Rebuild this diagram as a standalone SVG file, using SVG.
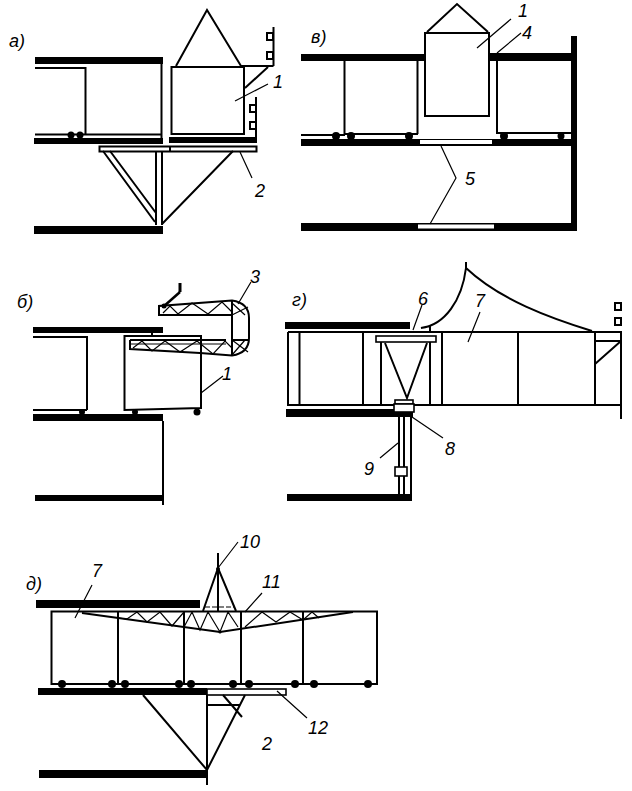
<svg xmlns="http://www.w3.org/2000/svg" width="632" height="791" viewBox="0 0 632 791">
<style>
.s{fill:#000;stroke:none}
.l{fill:none;stroke:#000;stroke-width:2}
.t{fill:none;stroke:#000;stroke-width:1.2}
.o{fill:#fff;stroke:#000;stroke-width:1.6}
.w{fill:#fff;stroke:none}
text{font-family:"Liberation Sans",Arial,sans-serif;font-style:italic;font-size:18px;fill:#000}
</style>
<rect width="632" height="791" fill="#fff"/>
<g id="panel-a">
<rect class="s" x="35" y="57" width="128" height="7"/>
<rect class="s" x="34" y="138" width="129" height="6"/>
<rect class="s" x="169" y="137" width="88" height="6"/>
<rect class="s" x="34" y="226" width="129" height="8"/>
<path class="l" d="M161.500 60V138M35 68H85.500V134M35 134.500H161"/>
<path class="l" d="M171.500 67H244V134H171.500ZM176 66L207 10L241 66M241 66H273.500M273.500 27V66M268 67L245 88M256 97V140"/>
<path class="l" d="M267 33h6v7h-6zM267 52h6v7h-6zM250 105h6v7h-6zM250 122h6v7h-6z"/>
<circle class="s" cx="71" cy="135" r="3.500"/><circle class="s" cx="80" cy="135" r="3.500"/>
<path class="l" d="M99.500 146.500H256.500V151.500H99.500Z"/>
<path class="l" d="M170 151.500V146"/>
<path class="l" d="M103 151L155 222M110 151L156 213M156 151V225M162 151V225M162 224L233 151"/>
<path class="t" d="M235 101L268 84M240 152L252 178"/>
<text x="9" y="47">а)</text><text x="273" y="88">1</text><text x="255" y="197">2</text>
</g>
<g id="panel-b">
<rect class="s" x="301" y="54" width="125" height="7"/>
<rect class="s" x="490" y="53" width="84" height="8"/>
<rect class="s" x="571" y="36" width="6" height="192"/>
<rect class="s" x="301" y="139" width="273" height="7"/>
<rect class="s" x="301" y="223" width="276" height="8"/>
<rect class="w" x="420" y="140" width="72" height="4"/>
<rect class="w" x="418" y="224.500" width="76" height="4"/>
<path class="l" d="M425 33H489V116H425ZM427 32L457 4L488 32"/>
<path class="l" d="M344.500 61V134M417.500 61V134M345 134H418M301 135H345M497 61V133H571"/>
<circle class="s" cx="336" cy="136" r="4"/><circle class="s" cx="351" cy="136" r="4"/><circle class="s" cx="409" cy="136" r="4"/><circle class="s" cx="504" cy="136" r="4"/><circle class="s" cx="561" cy="136" r="3.500"/>
<path class="t" d="M477 48L511 19M497 53L521 33M441 146L456 178L430 224"/>
<text x="311" y="43">в)</text><text x="518" y="17">1</text><text x="522" y="39">4</text><text x="465" y="185">5</text>
</g>
<g id="panel-v">
<rect class="s" x="33" y="327" width="130" height="6"/>
<rect class="s" x="33" y="414" width="130" height="7"/>
<rect class="s" x="35" y="495" width="129" height="6"/>
<path class="l" d="M33 337H87V410M33 410H87"/>
<path class="l" d="M163 421V505M124.500 336H201V408L124.500 410ZM152 333V336"/>
<circle class="s" cx="82" cy="412" r="3"/><circle class="s" cx="135" cy="412" r="3"/><circle class="s" cx="197" cy="412" r="3.500"/>
<path class="l" d="M130 340H226M130 340V349L200 353L232 355.500Q249 353 249 338V318Q249 303 232 300.500L159 306V315H232M232 300V355M232 340H249"/>
<path class="t" d="M130 344H226"/>
<path class="t" d="M133 348L142 341L152 351L165 341L180 352L197 341L213 354L225 341L232 348M163 313L170 306L178 314L192 303L208 314L222 302L232 312M232 303L245 315M232 315L248 307M232 340L248 352M232 355L245 340"/>
<path d="M163 307L180 292" fill="none" stroke="#000" stroke-width="2.500"/>
<path d="M180 283V292" fill="none" stroke="#000" stroke-width="3"/>
<circle class="s" cx="164" cy="306" r="2.500"/>
<path class="t" d="M201 393L223 376M238 304L251 282"/>
<text x="17" y="308">б)</text><text x="222" y="380">1</text><text x="250" y="283">3</text>
</g>
<g id="panel-g">
<rect class="s" x="285" y="322" width="125" height="7"/>
<rect class="s" x="286" y="409" width="127" height="8"/>
<rect class="s" x="287" y="494" width="125" height="7"/>
<path class="l" d="M288 332H621V419M288 332V405H621"/>
<path class="l" d="M299.500 332V405M363 332V405M381 342V405M430 342V405M442 332V405M518 332V405M595 332V405"/>
<path class="l" d="M595 341H621M595 364L621 341M615 303h6v7h-6zM615 318h6v7h-6z"/>
<path class="l" d="M466 262L466 268C462 300 445 325 421 328L430 326V331M466 268C500 300 550 318 592 331"/>
<rect class="o" x="376" y="336" width="60" height="6"/>
<path class="l" d="M385 343L407 398L427 343"/>
<rect class="o" x="395" y="400" width="18" height="4"/>
<rect class="o" x="394" y="404" width="20" height="8"/>
<path class="l" d="M399 417V495M404 417V495M411 417V495"/>
<rect class="o" x="395" y="467" width="12" height="9"/>
<path class="t" d="M413 330L422 305M468 342L480 312M412 417L443 438M398 443L380 458"/>
<text x="292" y="306">г)</text><text x="418" y="305">6</text><text x="475" y="307">7</text><text x="445" y="455">8</text><text x="364" y="475">9</text>
</g>
<g id="panel-d">
<rect class="s" x="36" y="600" width="164" height="8"/>
<rect class="s" x="38" y="688" width="169" height="7"/>
<rect class="s" x="39" y="770" width="168" height="8"/>
<rect class="o" x="207" y="689" width="79" height="6"/>
<path class="l" d="M51.500 611.500H377V684H51.500ZM118 611V684M184 611V684M241 611V684M303 611V684"/>
<path class="l" d="M82 613L220 632L353 612"/>
<path class="t" d="M118 618L127 619L137 612L147 622L160 612L172 626L184 612M184 627L192 612L200 630L208 612L220 632L228 612L238 627M245 627L262 612L276 622L290 612L303 620L312 612L319 618"/>
<path class="l" d="M203 611L218 568L236 611M218 553V611"/>
<path class="t" d="M205 607H235" stroke-dasharray="5 2"/>
<circle class="s" cx="218" cy="569" r="2"/><circle class="s" cx="220" cy="632" r="1.500"/>
<circle class="s" cx="62" cy="684" r="4"/><circle class="s" cx="112" cy="684" r="4"/><circle class="s" cx="125" cy="684" r="4"/><circle class="s" cx="179" cy="684" r="4"/><circle class="s" cx="191" cy="684" r="4"/><circle class="s" cx="233" cy="684" r="4"/><circle class="s" cx="249" cy="684" r="4"/><circle class="s" cx="295" cy="684" r="4"/><circle class="s" cx="314" cy="684" r="4"/><circle class="s" cx="368" cy="684" r="4"/>
<path class="l" d="M207 695V785M143 695L207 770L245 695M207 705H240M223 695L242 717"/>
<path class="t" d="M218 568L238 542M245 612L262 593M75 618L92 585M277 691L307 718"/>
<text x="26" y="590">д)</text><text x="92" y="577">7</text><text x="240" y="548">10</text><text x="262" y="588">11</text><text x="308" y="734">12</text><text x="262" y="750">2</text>
</g>
</svg>
